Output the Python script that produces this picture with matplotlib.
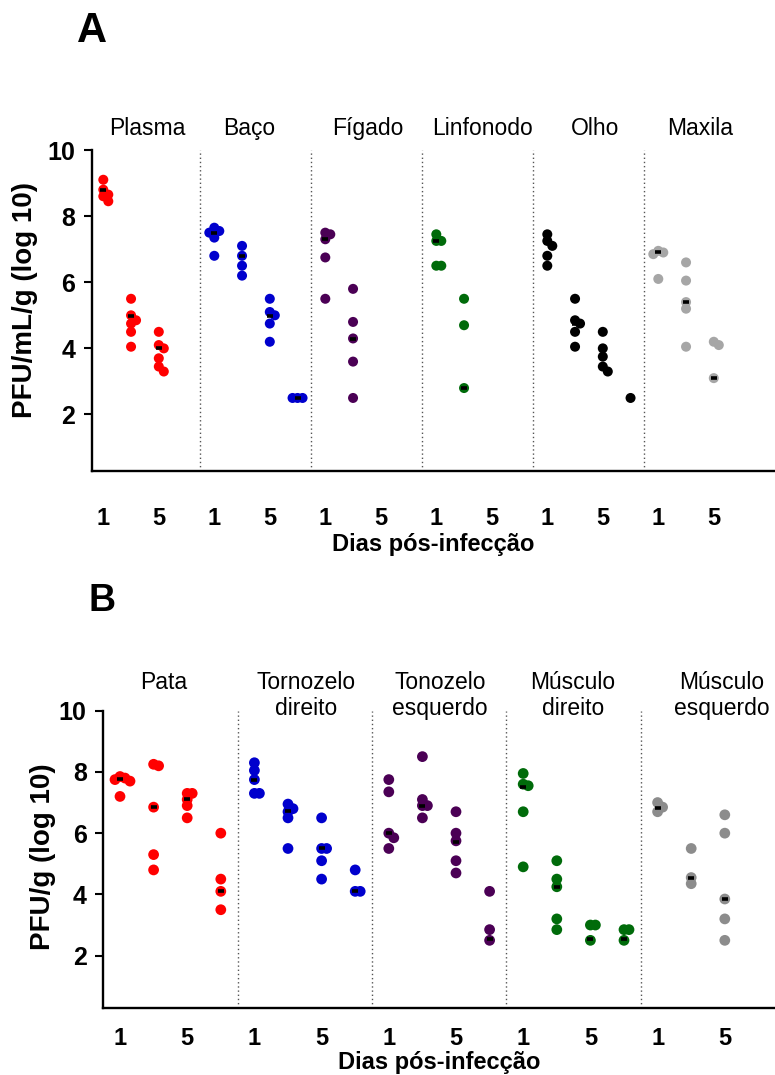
import numpy as np
import matplotlib
matplotlib.use('Agg')
import matplotlib.pyplot as plt

W, H = 775, 1075

# ---------------- data ----------------
day_labels = ['1', '5']          # labelled slots: day 1 and day 5 (slots are days 1,3,5,7)

tissues_a = ['Plasma', 'Baço', 'Fígado', 'Linfonodo', 'Olho', 'Maxila']
colors_a = ['#FF0000', '#0000CD', '#4B0055', '#006B0A', '#000000', '#A6A6A6']
plasma = [[9.1, 8.8, 8.65, 8.6, 8.45], [5.5, 5.0, 4.85, 4.75, 4.5, 4.05], [4.5, 4.1, 4.0, 3.7, 3.45, 3.3], []]
baco = [[7.65, 7.55, 7.5, 7.35, 6.8], [7.1, 6.8, 6.5, 6.2], [5.5, 5.1, 5.0, 4.75, 4.2], [2.5, 2.5, 2.5]]
figado = [[7.5, 7.45, 7.3, 6.75, 5.5], [5.8, 4.8, 4.3, 3.6, 2.5], [], []]
linfonodo = [[7.45, 7.25, 7.25, 6.5, 6.5], [5.5, 4.7, 2.8], [], []]
olho = [[7.45, 7.25, 7.1, 6.8, 6.5], [5.5, 4.85, 4.75, 4.5, 4.05], [4.5, 4.0, 3.75, 3.45, 3.3], [2.5]]
maxila = [[6.95, 6.9, 6.85, 6.1], [6.6, 6.05, 5.4, 5.2, 4.05], [4.2, 4.1, 3.1], []]
centers_a = [[8.8, 4.97, 4.0, None], [7.48, 6.8, 4.97, 2.5], [7.32, 4.27, None, None],
             [7.24, 2.8, None, None], [7.2, 4.75, 4.0, 2.5], [6.9, 5.4, 3.1, None]]

tissues_b = ['Pata', 'Tornozelo\ndireito', 'Tonozelo\nesquerdo', 'Músculo\ndireito', 'Músculo\nesquerdo']
colors_b = ['#FF0000', '#0000CD', '#4B0055', '#006B0A', '#8C8C8C']
pata = [[7.85, 7.8, 7.75, 7.7, 7.2], [8.25, 8.2, 6.85, 5.3, 4.8], [7.3, 7.3, 7.1, 6.9, 6.5], [6.0, 4.5, 4.1, 3.5]]
tornozelo_dir = [[8.3, 8.05, 7.75, 7.3, 7.3], [6.95, 6.8, 6.7, 6.5, 5.5], [6.5, 5.5, 5.5, 5.1, 4.5], [4.8, 4.1, 4.1]]
tornozelo_esq = [[7.75, 7.35, 6.0, 5.85, 5.5], [8.5, 7.1, 6.9, 6.9, 6.5], [6.7, 6.0, 5.75, 5.1, 4.7], [4.1, 2.85, 2.5]]
musculo_dir = [[7.95, 7.6, 7.55, 6.7, 4.9], [5.1, 4.5, 4.25, 3.2, 2.85], [3.0, 3.0, 2.5], [2.85, 2.85, 2.5]]
musculo_esq = [[7.0, 6.85, 6.7], [5.5, 4.55, 4.35], [6.6, 6.0, 3.85, 3.2, 2.5], []]
centers_b = [[7.77, 6.84, 7.1, 4.12], [7.74, 6.73, 5.52, 4.12], [6.01, 6.89, 5.72, 2.53],
             [7.52, 4.25, 2.53, 2.53], [6.83, 4.54, 3.84, None]]

data_a = [plasma, baco, figado, linfonodo, olho, maxila]
data_b = [pata, tornozelo_dir, tornozelo_esq, musculo_dir, musculo_esq]

# ---------------- layout helpers ----------------
def fx(px):
    return px / W

def fy(py):
    return 1 - py / H

SANS = ['Liberation Sans', 'DejaVu Sans']
plt.rcParams['font.family'] = SANS


def swarm(vals, px_y, diam, step):
    placed = []
    res = [0.0] * len(vals)
    order = sorted(range(len(vals)), key=lambda i: -vals[i])
    for i in order:
        y = vals[i] * px_y
        xo = 0.0
        for k in [0, 1, -1, 2, -2, 3, -3]:
            xo = k * step
            if all((xo - a) ** 2 + (y - b) ** 2 >= (0.5 * diam) ** 2 - 0.01 for a, b in placed):
                break
        placed.append((xo, y))
        res[i] = xo
    return res


def panel(ax_px, slot0_px, slot_px, data, centers, colors, titles, title_x, title_y,
          title_va, ylabel, ylabel_x, ylabel_y, xlabel_y, tick_pad, dot_s):
    left, top, bottom = ax_px
    ax = fig.add_axes([fx(left), fy(bottom), 1 - fx(left), (bottom - top) / H])
    ymin, ymax = 0.3, 10
    ax.set_ylim(ymin, ymax)
    x0 = -(slot0_px - left) / slot_px
    x1 = (W - slot0_px) / slot_px
    ax.set_xlim(x0, x1)
    px_y = (bottom - top) / (ymax - ymin)
    ngroups = len(data)
    for g in range(ngroups):
        for d, vals in enumerate(data[g]):
            if not vals:
                continue
            xs = np.array(swarm(vals, px_y, 10, 5.0)) / slot_px + 4 * g + d
            ax.scatter(xs, vals, s=dot_s, color=colors[g], edgecolors='none', zorder=3)
            c = centers[g][d]
            if c is not None:
                ax.plot([4 * g + d], [c], marker='_', ms=5, mew=2.6, color='black', zorder=4)
        if g < ngroups - 1:
            sep = 4 * g + 3.5
            ax.plot([sep, sep], [ymin, ymax], color='#555555', lw=1.0,
                    linestyle=(0, (1, 2)), zorder=1, clip_on=False)
    ax.spines['top'].set_visible(False)
    ax.spines['right'].set_visible(False)
    ax.spines['left'].set_linewidth(1.7)
    ax.spines['bottom'].set_linewidth(1.7)
    ax.set_yticks([2, 4, 6, 8, 10])
    ax.tick_params(axis='y', direction='out', length=6, width=1.5, pad=6)
    for t in ax.get_yticklabels():
        t.set_fontweight('bold')
        t.set_fontsize(18)
    xt = []
    xl = []
    for g in range(ngroups):
        xt += [4 * g, 4 * g + 2]
        xl += day_labels
    ax.set_xticks(xt)
    ax.set_xticklabels(xl, fontweight='bold', fontsize=17)
    ax.tick_params(axis='x', length=0, pad=tick_pad)
    # group titles
    for g, name in enumerate(titles):
        fig.text(fx(title_x[g]), fy(title_y), name, ha='center', va=title_va,
                 fontsize=16.5, linespacing=1.15)
    fig.text(fx(ylabel_x), fy(ylabel_y), ylabel, rotation=90,
             ha='center', va='center', fontsize=20, fontweight='bold')
    fig.text(fx((left + W) / 2), fy(xlabel_y), 'Dias pós-infecção', ha='center',
             va='center', fontsize=17, fontweight='bold')
    return ax


fig = plt.figure(figsize=(W / 100, H / 100), dpi=100)

panel((91.7, 150, 470.7), 103.3, 27.75, data_a, centers_a, colors_a, tissues_a,
      [147, 249, 368, 482, 595, 700], 135, 'baseline', 'PFU/mL/g (log 10)', 25, 300,
      545, 26, 52)
panel((103.3, 710.7, 1007.7), 120, 33.6, data_b, centers_b, colors_b, tissues_b,
      [164, 306, 440, 573, 722], 671, 'top', 'PFU/g (log 10)', 43, 857,
      1063, 14, 60)

fig.text(fx(92), fy(31), 'A', ha='center', va='center', fontsize=30, fontweight='bold')
fig.text(fx(102), fy(601), 'B', ha='center', va='center', fontsize=27, fontweight='bold')

fig.savefig('out.png', dpi=100)
